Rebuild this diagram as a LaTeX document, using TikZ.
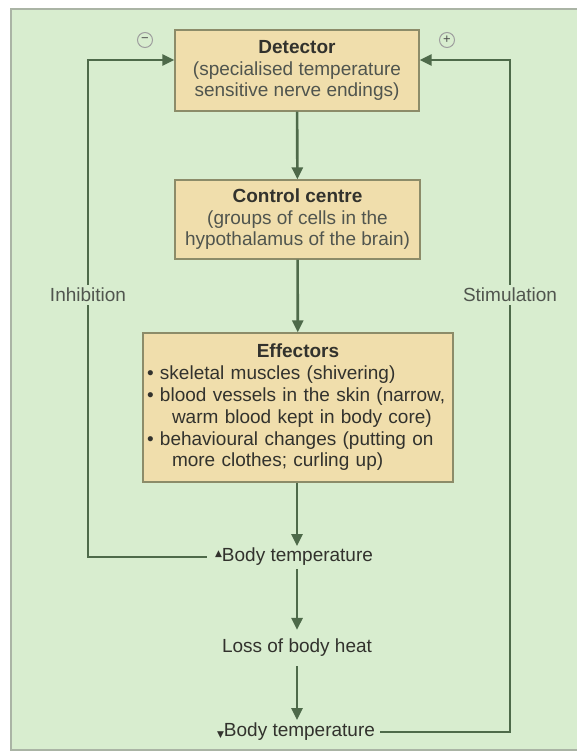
\documentclass[tikz,border=0pt]{standalone}
\usepackage{fontspec}
\setmainfont{Liberation Sans}
\newfontfamily\symfont{DejaVu Sans}
\usetikzlibrary{arrows.meta}
\definecolor{panelgreen}{RGB}{216,237,207}
\definecolor{paneledge}{RGB}{170,180,165}
\definecolor{boxtan}{RGB}{240,222,172}
\definecolor{boxedge}{RGB}{140,140,105}
\definecolor{linegreen}{RGB}{78,106,74}
\definecolor{txt}{RGB}{50,50,45}
\definecolor{lbl}{RGB}{80,85,78}
\begin{document}
\begin{tikzpicture}[x=1pt,y=-1pt,
  every node/.style={font=\fontsize{19}{21.5}\selectfont, text=txt},
  stagebox/.style={draw=boxedge, line width=1.3pt, fill=boxtan, align=center, inner sep=0pt},
  tip/.style={-{Triangle[length=12pt,width=11pt]}},
  flow/.style={draw=linegreen, line width=2.6pt, tip},
  loopline/.style={draw=linegreen, line width=2.6pt, tip},
  plain/.style={inner sep=2pt},
  sidelabel/.style={fill=panelgreen, inner sep=3pt, text=lbl},
  signcirc/.style={circle, draw=gray!75, line width=1pt, minimum size=15pt, inner sep=0pt, font=\fontsize{13}{13}\selectfont, text=gray!60!black}
]
\useasboundingbox (0,0) rectangle (577,756);
\fill[panelgreen] (11,9) rectangle (577,750);
\draw[paneledge, line width=1.2pt] (577,9) -- (11,9) -- (11,750) -- (577,750);

% boxes
\node[stagebox, minimum width=244pt, minimum height=81pt] (det) at (297,70.5)
  {\textbf{Detector}\\ \color{lbl}(specialised temperature\\ \color{lbl}sensitive nerve endings)};
\node[stagebox, minimum width=245pt, minimum height=79pt] (ctl) at (297.5,219.5)
  {\textbf{Control centre}\\ \color{lbl}(groups of cells in the\\ \color{lbl}hypothalamus of the brain)};
\node[stagebox, minimum width=310pt, minimum height=149pt, text width=302pt, align=left,
      font=\fontsize{19}{21.8}\selectfont] (eff) at (298,407.5)
  {\centering\textbf{Effectors}\par\raggedright
   \mbox{\textbullet\ skeletal muscles (shivering)}\par
   \mbox{\textbullet\ blood vessels in the skin (narrow,}\par
   \mbox{\hspace*{25pt}warm blood kept in body core)}\par
   \mbox{\textbullet\ behavioural changes (putting on}\par
   \mbox{\hspace*{25pt}more clothes; curling up)}};

% flow texts
\node[plain, inner xsep=8pt] (bt1) at (294,557)
  {\raisebox{5pt}{\symfont\fontsize{9}{9}\selectfont ▲}Body temperature};
\node[plain, inner ysep=9pt] (loss) at (297,648) {Loss of body heat};
\node[plain, inner xsep=5pt] (bt2) at (296,732)
  {\raisebox{-1pt}{\symfont\fontsize{9}{9}\selectfont ▼}Body temperature};

% vertical flow
\draw[flow] (det) -- (ctl);
\draw[flow] (ctl) -- (eff);
\draw[flow] (eff.south -| 297,0) -- (297,546);
\draw[flow] (297,569) -- (loss.north -| 297,0);
\draw[flow] (loss.south -| 297,0) -- (297,720);

% feedback loops
\coordinate (ltop) at (88,60);
\coordinate (rtop) at (510,60);
\draw[loopline] (bt1.west) -- (bt1.west -| ltop) -- (ltop) -- (ltop -| det.west);
\draw[loopline] (bt2.east) -- (bt2.east -| rtop) -- (rtop) -- (rtop -| det.east);

\node[sidelabel] (inh) at (88,295) {Inhibition};
\node[sidelabel] (stim) at (510,295) {Stimulation};

\node[signcirc] (minus) at (145,40) {−};
\node[signcirc] (plus) at (447,40) {+};
\end{tikzpicture}
\end{document}
